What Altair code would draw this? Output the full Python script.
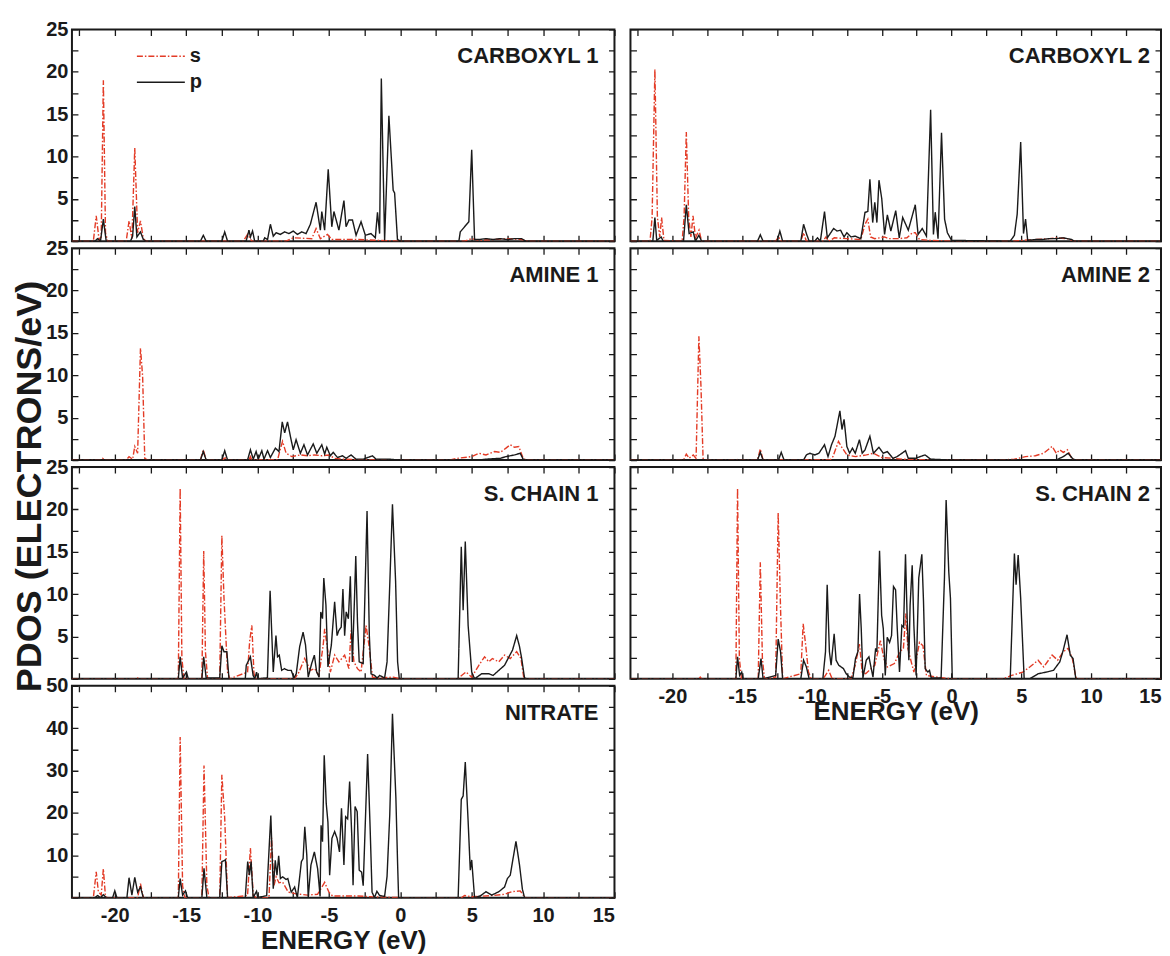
import altair as alt
import pandas as pd

INK = "#1a1a1a"
RED = "#e33b26"
FONT = "Liberation Sans"

X_DOMAIN = [-23, 15]
X_TICKS = [-22.5, -20, -17.5, -15, -12.5, -10, -7.5, -5, -2.5, 0, 2.5, 5, 7.5, 10, 12.5, 15]
Y_TICKS_25 = [0, 2.5, 5, 7.5, 10, 12.5, 15, 17.5, 20, 22.5, 25]
Y_TICKS_50 = [0, 5, 10, 15, 20, 25, 30, 35, 40, 45, 50]
PANEL_NAMES = ["CARBOXYL 1", "AMINE 1", "S. CHAIN 1", "NITRATE", "CARBOXYL 2", "AMINE 2", "S. CHAIN 2"]
ORBITALS = ["s", "p"]

# ---------------- CARBOXYL 1 ----------------
C1_S_E = [-23, -21.5, -21.3, -21.1, -20.95, -20.8, -20.65, -20.5, -19.2, -19.0, -18.8, -18.6, -18.4, -18.2, -18.0,
          -17.8, -11.0, -10.7, -10.4, -8.0, -7.5, -6.2, -5.9, -5.6, -5.1, -4.8, -4.0, -3.0, -1.5, 0, 4.5, 5.0, 5.5,
          6.5, 7.5, 8.5, 9.0, 15]
C1_S_V = [0, 0, 3.0, 0.2, 0.5, 19.0, 1.0, 0, 0, 2.4, 0.3, 11.0, 1.0, 2.4, 0.3,
          0, 0, 0.8, 0, 0, 0.4, 0.3, 1.5, 0.3, 0.8, 0.2, 0.2, 0.2, 0.1, 0, 0, 0.3, 0.1,
          0.2, 0.3, 0.2, 0, 0]
C1_P_E = [-23, -21.4, -21.2, -21.0, -20.8, -20.6, -18.9, -18.75, -18.6, -18.45, -18.2, -18.0, -17.8, -14.0, -13.8,
          -13.6, -12.5, -12.3, -12.1, -10.8, -10.6, -10.5, -10.35, -10.2, -9.6, -9.5, -9.3, -9.1, -8.9, -8.7, -8.4,
          -8.1, -7.8, -7.5, -7.2, -6.9, -6.6, -6.3, -5.9, -5.6, -5.5, -5.3, -5.05, -4.8, -4.65, -4.3, -3.95, -3.8,
          -3.6, -3.35, -3.1, -2.75, -2.45, -2.05, -1.75, -1.6, -1.45, -1.33, -1.1, -0.8, -0.5, -0.4, -0.2, 0,
          4.1, 4.2, 4.5, 4.8, 5.0, 5.2, 5.5, 6.0, 6.5, 7.0, 7.5, 8.0, 8.5, 8.8, 15]
C1_P_V = [0, 0, 0.3, 0, 2.6, 0, 0, 0.6, 4.1, 0.5, 1.1, 0.2, 0, 0, 0.7,
          0, 0, 1.1, 0, 0, 1.3, 0.5, 1.2, 0, 0, 0.4, 0.2, 2.0, 0.6, 1.0, 0.8,
          1.1, 0.9, 1.2, 0.8, 1.1, 0.9, 2.0, 4.6, 1.3, 3.5, 1.3, 8.5, 1.7, 3.5, 1.3, 4.8, 1.7,
          2.5, 2.5, 0.7, 2.3, 0.7, 0.9, 0.4, 3.4, 0.9, 19.2, 0.1, 14.8, 6.0, 5.7, 0.2, 0,
          0, 1.1, 1.7, 2.3, 10.8, 0.2, 0.2, 0.3, 0.2, 0.3, 0.2, 0.3, 0.3, 0, 0]

# ---------------- AMINE 1 ----------------
A1_S_E = [-23, -21.0, -20.85, -20.7, -19.2, -19.0, -18.75, -18.6, -18.4, -18.2, -18.05, -17.9, -17.7, -14.0, -13.8,
          -13.6, -12.4, -12.3, -12.2, -10.6, -10.5, -10.4, -8.6, -8.45, -8.25, -8.0, -7.6, -7.0, -6.5, -6.0, -5.5,
          -5.0, -4.6, -4.0, -2.0, 3.5, 4.0, 5.0, 5.5, 6.0, 6.6, 7.0, 7.4, 7.7, 8.0, 8.3, 8.6, 8.8, 15]
A1_S_V = [0, 0, 0.2, 0, 0, 0.4, 0.1, 1.6, 0.8, 13.2, 9.9, 0.2, 0, 0, 1.2,
          0, 0, 0.4, 0, 0, 0.4, 0, 0, 1.0, 2.2, 0.8, 0.4, 0.6, 0.5, 0.6, 0.5,
          0.6, 0.2, 0.1, 0, 0, 0.2, 0.4, 0.8, 0.6, 1.0, 0.9, 1.4, 1.8, 1.5, 1.6, 0.2, 0, 0]
A1_P_E = [-23, -14.0, -13.8, -13.6, -12.5, -12.3, -12.1, -10.7, -10.5, -10.3, -10.1, -9.95, -9.7, -9.55, -9.3, -9.1,
          -8.75, -8.5, -8.27, -8.1, -7.9, -7.7, -7.5, -7.3, -7.0, -6.75, -6.5, -6.1, -5.85, -5.5, -5.3, -5.15, -4.9,
          -4.7, -4.4, -4.05, -3.8, -3.45, -3.1, -2.6, -1.95, -1.7, -0.8, 0, 5.5, 6.0, 7.0, 7.4, 8.0, 8.4, 8.6, 8.8, 15]
A1_P_V = [0, 0, 1.0, 0, 0, 1.1, 0, 0, 1.2, 0.1, 1.0, 0.1, 1.1, 0.1, 1.1, 0.3,
          1.4, 1.0, 4.5, 3.2, 4.5, 2.8, 1.2, 2.4, 0.8, 1.8, 0.6, 1.9, 0.8, 1.8, 0.7, 1.5, 0.5,
          0.9, 0.3, 0.5, 0.2, 0.6, 0.1, 0.1, 0.5, 0.1, 0.1, 0, 0, 0.1, 0.2, 0.4, 0.6, 0.8, 0.1, 0, 0]

# ---------------- S. CHAIN 1 ----------------
SC1_S_E = [-23, -18.5, -18.4, -18.3, -15.55, -15.42, -15.3, -15.15, -13.9, -13.77, -13.65, -13.5, -12.65, -12.5,
           -12.35, -12.1, -11.95, -10.7, -10.55, -10.4, -10.25, -10.1, -7.4, -7.1, -6.7, -6.3, -6.0, -5.7, -5.4,
           -5.3, -5.07, -4.9, -4.6, -4.3, -3.9, -3.6, -3.45, -3.25, -3.0, -2.75, -2.4, -2.2, -1.95, -1.5, -0.5, 0,
           4.0, 4.6, 5.0, 5.5, 5.9, 6.2, 6.45, 6.9, 7.3, 7.7, 8.15, 8.45, 8.65, 8.8, 15]
SC1_S_V = [0, 0, 0.1, 0, 0, 22.5, 2.4, 0, 0, 15.1, 3.2, 0, 0, 16.9,
           9.5, 0.8, 0, 0.8, 4.5, 6.3, 0.6, 0, 0, 0.8, 2.4, 1.0, 1.2, 0.4, 4.0,
           5.9, 3.2, 0.8, 2.8, 2.0, 2.8, 1.2, 5.7, 2.0, 1.2, 0.8, 6.3, 4.0, 0.2, 0.1, 0.2, 0,
           0, 0.8, 0.2, 1.6, 2.6, 2.0, 2.4, 2.0, 2.8, 2.4, 3.2, 2.4, 0.1, 0, 0]
SC1_P_E = [-23, -15.55, -15.42, -15.25, -14.98, -14.85, -13.9, -13.77, -13.6, -12.65, -12.5, -12.35, -12.15, -12.0,
           -10.86, -10.79, -10.5, -10.31, -10.19, -10.07, -9.98, -9.31, -9.12, -8.9, -8.71, -8.6, -8.48, -8.31,
           -8.12, -7.88, -7.64, -7.45, -7.29, -7.05, -6.81, -6.64, -6.45, -6.21, -6.02, -5.86, -5.69, -5.57, -5.45,
           -5.36, -5.21, -5.07, -4.83, -4.6, -4.43, -4.31, -4.14, -4.02, -3.9, -3.79, -3.64, -3.5, -3.36, -3.21,
           -3.12, -3.0, -2.88, -2.6, -2.33, -2.17, -2.05, -1.81, -1.62, -1.45, -1.1, -0.93, -0.74, -0.55, -0.33,
           -0.19, -0.07, 4.05, 4.27, 4.4, 4.55, 4.75, 5.0, 5.2, 5.7, 6.2, 6.5, 6.9, 7.3, 7.86, 8.15, 8.35, 8.5,
           8.7, 8.9, 15]
SC1_P_V = [0, 0, 2.6, 0.1, 0.8, 0, 0, 2.6, 0.1, 0.1, 3.9, 3.2, 3.2, 0,
           0, 1.6, 2.6, 0.4, 0, 0.8, 0, 0.1, 10.4, 0.8, 5.1, 2.6, 2.8, 1.0,
           1.2, 1.0, 1.0, 0.1, 0.6, 3.8, 5.5, 4.0, 0.2, 1.8, 2.8, 0.8, 0.2, 7.9, 7.1,
           11.9, 8.7, 1.4, 4.0, 9.1, 5.1, 5.7, 6.1, 10.6, 5.1, 7.9, 7.1, 12.1, 2.0, 9.5,
           14.5, 6.7, 2.0, 1.8, 19.8, 5.1, 0.6, 0.4, 0.1, 0.4, 0.1, 2.0, 11.1, 20.6, 11.5,
           2.0, 0, 0, 15.6, 8.1, 16.2, 6.3, 0.8, 0, 0.6, 0.6, 0.4, 1.0, 1.6, 3.4, 5.1, 3.8, 2.4,
           0.1, 0, 0]

# ---------------- NITRATE ----------------
N_S_E = [-23, -21.5, -21.3, -21.15, -20.95, -20.8, -20.65, -20.5, -18.4, -18.2, -18.0, -15.55, -15.42, -15.25,
         -15.1, -13.9, -13.75, -13.55, -13.4, -12.65, -12.5, -12.3, -12.1, -10.7, -10.5, -10.3, -10.1, -9.2,
         -9.02, -8.85, -8.7, -8.5, -8.25, -7.85, -7.3, -6.5, -5.8, -5.3, -5.0, -4.75, -3.0, -2.0, 0, 4.3, 4.5,
         5.0, 6.5, 7.3, 7.8, 8.4, 8.65, 8.8, 15]
N_S_V = [0, 0, 6.1, 1.4, 0.6, 6.8, 0.2, 0, 0, 3.3, 0, 0, 37.9, 2.8,
         0, 0, 31.2, 2.8, 0, 0, 29.0, 18.8, 0, 0.5, 11.7, 0.5, 0, 0,
         14.1, 2.8, 4.9, 3.5, 3.7, 1.3, 0.9, 0.6, 0.8, 3.6, 1.3, 0.4, 0.4, 0.2, 0, 0, 0.5,
         0.2, 0.5, 0.8, 1.4, 1.6, 0.4, 0, 0]
N_P_E = [-23, -21.4, -21.2, -21.0, -20.8, -20.6, -20.15, -20.0, -19.85, -19.15, -19.0, -18.8, -18.6, -18.4, -18.2,
         -18.0, -15.55, -15.42, -15.25, -15.05, -14.9, -13.9, -13.75, -13.55, -12.65, -12.5, -12.25, -12.1,
         -10.86, -10.69, -10.57, -10.45, -10.31, -10.07, -9.98, -9.36, -9.07, -8.9, -8.76, -8.64, -8.52, -8.4,
         -8.24, -8.0, -7.88, -7.64, -7.4, -7.21, -6.93, -6.81, -6.69, -6.55, -6.45, -6.26, -6.02, -5.79, -5.62,
         -5.55, -5.45, -5.33, -5.19, -5.07, -4.95, -4.79, -4.6, -4.43, -4.26, -4.12, -3.95, -3.83, -3.69, -3.55,
         -3.4, -3.31, -3.17, -3.02, -2.88, -2.71, -2.6, -2.29, -2.12, -1.98, -1.81, -1.64, -1.45, -1.1, -0.93,
         -0.74, -0.55, -0.31, -0.19, -0.12, 4.05, 4.27, 4.4, 4.55, 4.75, 4.9, 5.0, 5.2, 5.6, 6.0, 6.4, 6.9, 7.3,
         7.5, 7.7, 8.1, 8.35, 8.55, 8.7, 15]
N_P_V = [0, 0, 0.5, 0, 0.7, 0, 0, 1.6, 0, 0, 4.7, 0.6, 4.8, 1.3, 2.5,
         0, 0, 4.5, 0.6, 1.6, 0, 0, 6.9, 0, 0, 8.5, 8.9, 0,
         0, 8.5, 5.3, 8.5, 0, 1.5, 0, 0.5, 19.4, 2.1, 8.8, 5.3, 9.9, 4.5,
         4.9, 4.3, 4.5, 1.3, 2.5, 0, 8.5, 9.2, 16.7, 10.0, 0, 7.7, 10.8, 6.8, 0.3,
         17.1, 13.2, 33.6, 22.3, 17.8, 5.3, 14.0, 15.6, 14.0, 10.8, 21.1, 7.7, 19.1, 18.6, 27.4,
         14.6, 2.9, 21.5, 20.3, 6.5, 6.0, 2.8, 33.9, 17.0, 1.3, 0, 1.5, 0.5, 0.3, 5.0,
         19.5, 43.4, 23.5, 8.0, 0, 0, 23.2, 24.0, 32.0, 18.0, 6.5, 8.9, 0, 0.4, 1.4, 0.6, 1.4, 2.5,
         4.5, 5.3, 13.3, 7.7, 2.0, 0, 0]

# ---------------- CARBOXYL 2 ----------------
C2_S_E = [-23, -21.6, -21.45, -21.25, -21.07, -20.9, -20.77, -20.6, -19.3, -19.16, -19.0, -18.83, -18.67, -18.52,
          -18.34, -18.09, -17.9, -12.6, -12.4, -12.2, -10.8, -10.6, -10.4, -9.2, -9.0, -8.8, -8.4, -7.5, -6.5,
          -6.2, -6.0, -5.8, -5.5, -4.8, -4.5, -3.8, -3.2, -2.8, -2.6, -2.3, -1.5, 0, 4.5, 5.0, 6.0, 7.0, 7.6,
          8.3, 8.8, 15]
C2_S_V = [0, 0, 2.8, 20.3, 2.8, 0.5, 2.8, 0.1, 0, 2.8, 12.9, 2.8, 0.5, 3.0,
          0.4, 1.3, 0, 0, 0.5, 0, 0, 1.0, 0, 0, 0.5, 0, 0.4, 0.3, 0.2,
          2.0, 2.6, 0.5, 0.3, 0.5, 0.3, 0.3, 0.4, 1.0, 1.0, 0.2, 0.1, 0, 0, 0.1, 0.2, 0.3, 0.4,
          0.3, 0, 0]
C2_P_E = [-23, -21.4, -21.25, -21.12, -20.8, -20.65, -19.2, -19.0, -18.8, -18.5, -18.35, -18.1, -17.9, -13.9, -13.7,
          -13.5, -12.5, -12.3, -12.1, -10.8, -10.6, -10.4, -10.2, -9.8, -9.6, -9.4, -9.1, -8.9, -8.45, -8.2,
          -7.95, -7.7, -7.5, -7.2, -6.9, -6.5, -6.2, -6.0, -5.85, -5.65, -5.5, -5.35, -5.2, -5.0, -4.8, -4.6,
          -4.35, -4.0, -3.75, -3.5, -3.1, -2.6, -2.4, -2.1, -1.8, -1.5, -1.3, -1.17, -0.97, -0.72, -0.5, -0.3,
          0, 4.2, 4.5, 4.7, 4.95, 5.15, 5.3, 5.45, 6.0, 6.5, 7.0, 7.5, 8.0, 8.6, 8.8, 15]
C2_P_V = [0, 0, 2.8, 0.1, 0.5, 0, 0, 4.3, 0.9, 1.1, 0, 0.7, 0, 0, 0.75,
          0, 0, 1.2, 0, 0, 2.0, 0.9, 0, 0, 0.4, 0, 3.5, 0.4, 1.5, 1.2,
          1.3, 0.5, 1.0, 0.5, 0.6, 0.3, 3.4, 3.5, 7.3, 2.2, 4.6, 2.2, 7.2, 5.0, 0.8, 3.1,
          1.2, 3.6, 0.4, 2.8, 1.3, 4.3, 0.8, 1.5, 0.6, 15.5, 0.8, 3.4, 0.3, 12.8, 2.6, 1.0,
          0.1, 0, 0.7, 3.2, 11.7, 0.9, 2.6, 0.1, 0.2, 0.2, 0.3, 0.3, 0.4, 0.2, 0, 0]

# ---------------- AMINE 2 ----------------
A2_S_E = [-23, -21.0, -20.9, -20.7, -19.2, -19.0, -18.8, -18.5, -18.3, -18.1, -17.95, -17.8, -17.6, -15.4, -15.3,
          -15.2, -13.9, -13.7, -13.5, -8.7, -8.5, -8.1, -7.9, -7.5, -6.9, -6.1, -5.6, -5.0, -4.2, -3.5, -1.5,
          3.5, 4.5, 5.3, 6.0, 6.6, 7.2, 7.5, 7.75, 8.0, 8.3, 8.6, 8.8, 15]
A2_S_V = [0, 0, 0.1, 0, 0, 0.7, 0.2, 0.6, 0.2, 14.6, 8.7, 0.2, 0, 0, 0.1,
          0, 0, 1.3, 0, 0, 0.4, 2.2, 1.6, 0.6, 0.4, 0.6, 0.8, 0.3, 0.2, 0.1, 0,
          0, 0.1, 0.4, 0.5, 0.8, 1.6, 0.8, 1.2, 0.9, 1.2, 0.2, 0, 0]
A2_P_E = [-23, -13.9, -13.7, -13.5, -12.4, -12.2, -12.0, -10.6, -10.4, -10.15, -9.8, -9.5, -9.1, -8.85, -8.6,
          -8.35, -8.0, -7.85, -7.7, -7.5, -7.3, -7.1, -6.9, -6.6, -6.4, -6.2, -5.85, -5.6, -5.2, -4.9, -4.6,
          -4.2, -3.9, -3.3, -3.1, -2.6, -1.9, -1.5, 0, 7.5, 8.0, 8.35, 8.7, 8.9, 15]
A2_P_V = [0, 0, 0.9, 0, 0, 0.9, 0, 0, 0.6, 0.8, 0.6, 0.8, 1.8, 0.4, 1.8,
          2.8, 5.8, 3.6, 4.8, 1.6, 0.8, 1.4, 0.8, 2.4, 0.8, 1.2, 2.8, 0.8, 1.5, 0.8, 1.0,
          0.2, 0.4, 1.1, 0.2, 0.2, 0.6, 0.1, 0, 0, 0.4, 0.8, 0.1, 0, 0]

# ---------------- S. CHAIN 2 ----------------
SC2_S_E = [-23, -18.1, -18.0, -17.9, -15.45, -15.33, -15.2, -15.05, -13.85, -13.7, -13.55, -13.4, -12.6, -12.42,
           -12.25, -12.1, -10.8, -10.63, -10.45, -10.25, -10.05, -9.2, -8.8, -8.55, -7.2, -6.9, -6.6, -6.4, -6.15,
           -5.5, -5.1, -4.85, -4.6, -4.1, -3.7, -3.45, -3.28, -3.13, -2.95, -2.7, -2.3, -2.05, -1.8, -1.0, 0,
           3.7, 4.3, 5.1, 5.6, 6.2, 6.6, 7.2, 7.6, 8.0, 8.35, 8.65, 8.9, 9.0, 15]
SC2_S_V = [0, 0, 0.2, 0, 0, 22.5, 2.4, 0, 0, 13.75, 2.4, 0, 0.2, 19.6,
           8.3, 0, 0.6, 6.5, 4.0, 0.8, 0, 0, 1.0, 0, 0, 1.6, 4.1, 0.8, 0.6,
           1.6, 4.5, 2.4, 1.4, 1.8, 3.2, 3.6, 7.7, 3.6, 2.4, 0.8, 4.3, 3.9, 0.4, 0.2, 0,
           0, 0.4, 0.8, 1.4, 2.2, 1.4, 2.8, 2.2, 3.2, 3.6, 2.4, 0.2, 0, 0]
SC2_P_E = [-23, -15.45, -15.33, -15.18, -15.03, -14.93, -13.85, -13.65, -13.5, -12.6, -12.42, -12.25, -12.1, -10.8,
           -10.6, -10.4, -10.2, -9.22, -9.03, -8.91, -8.75, -8.63, -8.41, -8.27, -8.08, -7.91, -7.74, -7.55, -7.31,
           -7.07, -6.88, -6.71, -6.59, -6.47, -6.35, -6.11, -5.92, -5.75, -5.63, -5.44, -5.35, -5.16, -5.01, -4.89,
           -4.75, -4.61, -4.44, -4.3, -4.16, -4.01, -3.89, -3.73, -3.56, -3.44, -3.3, -3.18, -3.06, -2.97, -2.82,
           -2.7, -2.54, -2.35, -2.13, -2.01, -1.89, -1.7, -1.58, -1.46, -0.75, -0.51, -0.39, -0.2, -0.08, 0.05,
           4.2, 4.5, 4.62, 4.77, 4.95, 5.2, 5.6, 6.2, 6.8, 7.3, 7.75, 8.0, 8.27, 8.5, 8.7, 8.9, 15]
SC2_P_V = [0, 0, 2.6, 0.4, 0.8, 0, 0, 2.4, 0, 0.4, 4.7, 3.2, 0, 0,
           2.2, 1.4, 0, 0, 3.2, 11.1, 3.2, 1.6, 5.3, 2.2, 1.6, 1.4, 1.2, 0.6, 0.2,
           0.1, 2.4, 3.2, 10.0, 5.9, 0.1, 2.2, 2.6, 1.2, 0.2, 3.6, 3.2, 15.1, 7.5, 5.9,
           0.4, 4.9, 4.3, 5.1, 10.9, 10.5, 5.9, 0.8, 6.3, 6.1, 14.7, 7.1, 2.2, 8.7, 13.4,
           6.3, 0.4, 11.9, 14.7, 9.1, 1.2, 0.8, 1.0, 0.1, 0.1, 11.9, 21.1, 12.6, 9.5, 0,
           0, 14.8, 11.1, 14.6, 9.5, 0, 0, 0.6, 0.8, 1.0, 2.0, 3.4, 5.2, 2.8, 2.4, 0, 0]


def make_df(s_e, s_v, p_e, p_v):
    rows = [{"E": e, "V": v, "orb": ORBITALS[0]} for e, v in zip(s_e, s_v)]
    rows += [{"E": e, "V": v, "orb": ORBITALS[1]} for e, v in zip(p_e, p_v)]
    return pd.DataFrame(rows)


def panel(name, df, W, H, ymax, yticks, ystep, show_x, show_y, xtitle=None,
          xtitle_pad=2, name_dx=16, legend=False):
    x_axis = dict(values=X_TICKS, grid=True, gridDash=[6, H - 12, 6, 3000], gridColor=INK,
                  gridWidth=1.3, ticks=False, domain=False, labels=show_x, labelPadding=8,
                  labelExpr="datum.value % 5 == 0 ? (datum.value < 0 ? '-' + abs(datum.value) : '' + datum.value) : ''")
    if xtitle:
        x_axis.update(title=xtitle, titlePadding=xtitle_pad)
    else:
        x_axis.update(title=None)
    y_axis = dict(values=yticks, grid=True, gridDash=[6, W - 12, 6, 3000], gridColor=INK,
                  gridWidth=1.3, ticks=False, domain=False, labels=show_y, labelPadding=4,
                  title=None,
                  labelExpr=f"datum.value % {ystep} == 0 && datum.value > 0 ? datum.label : ''")
    leg = None
    if legend:
        leg = alt.Legend(orient="none", legendX=64, legendY=17, title=None, symbolType="stroke",
                         symbolSize=2304, symbolStrokeWidth=1.5, labelFontSize=20,
                         labelFont=FONT, labelFontWeight="bold", labelColor=INK,
                         clipHeight=20, rowPadding=6, labelOffset=4, padding=0)
    lines = alt.Chart(df).mark_line(strokeWidth=1.4, clip=True).encode(
        x=alt.X("E:Q", scale=alt.Scale(domain=X_DOMAIN, nice=False, zero=False), axis=alt.Axis(**x_axis)),
        y=alt.Y("V:Q", scale=alt.Scale(domain=[0, ymax], nice=False), axis=alt.Axis(**y_axis)),
        color=alt.Color("orb:N", scale=alt.Scale(domain=ORBITALS, range=[RED, INK]), legend=leg),
        strokeDash=alt.StrokeDash("orb:N", scale=alt.Scale(domain=ORBITALS, range=[[6, 2, 1.5, 2], [1, 0]]),
                                  legend=leg),
    )
    label = alt.Chart(pd.DataFrame({"t": [name]})).mark_text(
        align="right", baseline="middle", font=FONT, fontWeight="bold", fontSize=22, color=INK
    ).encode(text="t:N", x=alt.value(W - name_dx), y=alt.value(27))
    return alt.layer(lines, label).properties(width=W, height=H)


H = 212
WL = 543
WR = 531

p1 = panel(PANEL_NAMES[0], make_df(C1_S_E, C1_S_V, C1_P_E, C1_P_V), WL, H, 25, Y_TICKS_25, 5, False, True, legend=True)
p2 = panel(PANEL_NAMES[1], make_df(A1_S_E, A1_S_V, A1_P_E, A1_P_V), WL, H, 25, Y_TICKS_25, 5, False, True)
p3 = panel(PANEL_NAMES[2], make_df(SC1_S_E, SC1_S_V, SC1_P_E, SC1_P_V), WL, H, 25, Y_TICKS_25, 5, False, True)
p4 = panel(PANEL_NAMES[3], make_df(N_S_E, N_S_V, N_P_E, N_P_V), WL, H, 50, Y_TICKS_50, 10, True, True,
           xtitle="ENERGY (eV)", xtitle_pad=2)
p5 = panel(PANEL_NAMES[4], make_df(C2_S_E, C2_S_V, C2_P_E, C2_P_V), WR, H, 25, Y_TICKS_25, 5, False, False, name_dx=11)
p6 = panel(PANEL_NAMES[5], make_df(A2_S_E, A2_S_V, A2_P_E, A2_P_V), WR, H, 25, Y_TICKS_25, 5, False, False, name_dx=11)
p7 = panel(PANEL_NAMES[6], make_df(SC2_S_E, SC2_S_V, SC2_P_E, SC2_P_V), WR, H, 25, Y_TICKS_25, 5, True, False,
           xtitle="ENERGY (eV)", xtitle_pad=-8, name_dx=11)

left = alt.vconcat(p1, p2, p3, p4, spacing=7, bounds="flush").properties(
    title=alt.TitleParams("PDOS (ELECTRONS/eV)", orient="left", anchor="middle", fontSize=36,
                          font=FONT, fontWeight="bold", color=INK, offset=-4)
)
right = alt.vconcat(p5, p6, p7, spacing=7, bounds="flush")

chart = alt.hconcat(left, right, spacing=14).properties(
    padding={"top": 10, "left": 3, "right": 0, "bottom": 0},
    background="white",
).configure_view(
    stroke=INK, strokeWidth=2
).configure_axis(
    labelFont=FONT, labelFontWeight="bold", labelFontSize=20, labelColor=INK,
    titleFont=FONT, titleFontWeight="bold", titleFontSize=26, titleColor=INK
)

chart.save("out.html", embed_options={"renderer": "svg", "actions": False})
